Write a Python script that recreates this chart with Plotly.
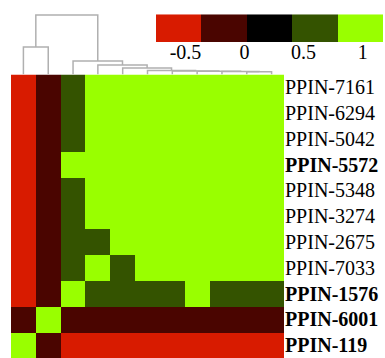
import plotly.graph_objects as go

# ---------------- data ----------------
row_labels = ["PPIN-7161", "PPIN-6294", "PPIN-5042", "PPIN-5572", "PPIN-5348",
              "PPIN-3274", "PPIN-2675", "PPIN-7033", "PPIN-1576", "PPIN-6001", "PPIN-119"]
bold_labels = ["PPIN-5572", "PPIN-1576", "PPIN-6001", "PPIN-119"]
col_labels = row_labels[::-1]

R, D, G, L, I = -0.6, -0.2, 0.6, 0.95, 1.0
corr = [
    [R, D, G, L, L, L, L, L, L, L, I],
    [R, D, G, L, L, L, L, L, L, I, L],
    [R, D, G, L, L, L, L, L, I, L, L],
    [R, D, L, L, L, L, L, I, L, L, L],
    [R, D, G, L, L, L, I, L, L, L, L],
    [R, D, G, L, L, I, L, L, L, L, L],
    [R, D, G, G, I, L, L, L, L, L, L],
    [R, D, G, I, G, L, L, L, L, L, L],
    [R, D, I, G, G, G, G, L, G, G, G],
    [D, I, D, D, D, D, D, D, D, D, D],
    [I, D, R, R, R, R, R, R, R, R, R],
]

# colour key
key_breaks = [-0.75, -0.365, 0.02, 0.405, 0.79, 1.175]
key_colors = ["#d81b00", "#4a0500", "#000000", "#345300", "#99ff00"]
key_ticks = [-0.5, 0, 0.5, 1]
key_ticktext = ["-0.5", "0", "0.5", "1"]

# column dendrogram merges: (left, right, height), leaves = column indices
merges = [
    (9, 10, 0.047),
    (8, 11, 0.050),
    (7, 12, 0.054),
    (6, 13, 0.059),
    (5, 14, 0.067),
    (4, 15, 0.109),
    (3, 16, 0.160),
    (2, 17, 0.227),
    (0, 1, 0.462),
    (19, 18, 1.000),
]

# ---------------- build ----------------
W, H = 385, 358
n = len(row_labels)
zmin, zmax = key_breaks[0], key_breaks[-1]
cs = []
for k, c in enumerate(key_colors):
    cs.append([k / len(key_colors), c])
    cs.append([(k + 1) / len(key_colors), c])

fig = go.Figure()

fig.add_trace(go.Heatmap(
    z=corr, x=list(range(n)), y=list(range(n)),
    colorscale=cs, zmin=zmin, zmax=zmax, showscale=False,
    xaxis="x", yaxis="y", hoverinfo="skip"))

# key
key_mid = [(key_breaks[i] + key_breaks[i + 1]) / 2 for i in range(len(key_colors))]
fig.add_trace(go.Heatmap(
    z=[key_mid], x=key_breaks, y=[0],
    colorscale=cs, zmin=zmin, zmax=zmax, showscale=False,
    xaxis="x2", yaxis="y2", hoverinfo="skip"))

# dendrogram
pos = {i: float(i) for i in range(n)}
hgt = {i: 0.0 for i in range(n)}
xs, ys = [], []
for k, (a, b, h) in enumerate(merges):
    node = n + k
    xs += [pos[a], pos[a], pos[b], pos[b], None]
    ys += [hgt[a], h, h, hgt[b], None]
    pos[node] = (pos[a] + pos[b]) / 2
    hgt[node] = h
fig.add_trace(go.Scatter(x=xs, y=ys, mode="lines",
                         line=dict(color="#b0b0b0", width=1.5),
                         xaxis="x", yaxis="y3", hoverinfo="skip", showlegend=False))

ticktext = ["<b>%s</b>" % s if s in bold_labels else s for s in row_labels]
serif = "Liberation Serif"

hm_top = 74.5
fig.update_layout(
    width=W, height=H, margin=dict(l=0, r=0, t=0, b=0),
    paper_bgcolor="white", plot_bgcolor="white", showlegend=False,
    font=dict(family=serif, color="black", size=20),
    xaxis=dict(domain=[11 / W, 284 / W], range=[-0.5, n - 0.5], showticklabels=False,
               showgrid=False, zeroline=False, ticks="", anchor="y"),
    yaxis=dict(domain=[0, 1 - hm_top / H], range=[n - 0.5, -0.5], side="right",
               tickvals=list(range(n)), ticktext=ticktext, ticks="",
               showgrid=False, zeroline=False, anchor="x",
               tickfont=dict(family=serif, size=20, color="black")),
    xaxis2=dict(domain=[156 / W, 383.3 / W], range=[key_breaks[0], key_breaks[-1]],
                tickvals=key_ticks, ticktext=key_ticktext, ticks="", ticklabelstandoff=-4,
                showgrid=False, zeroline=False, anchor="y2",
                tickfont=dict(family=serif, size=20, color="black")),
    yaxis2=dict(domain=[1 - 42 / H, 1 - 14.3 / H], range=[-0.5, 0.5], visible=False,
                anchor="x2"),
    yaxis3=dict(domain=[1 - hm_top / H, 1], range=[0, hm_top / 59.5], visible=False,
                anchor="x"),
)

fig.write_html("out.html", config={"displayModeBar": False},
               post_script="document.body.style.margin='0';document.body.style.overflow='hidden';")
